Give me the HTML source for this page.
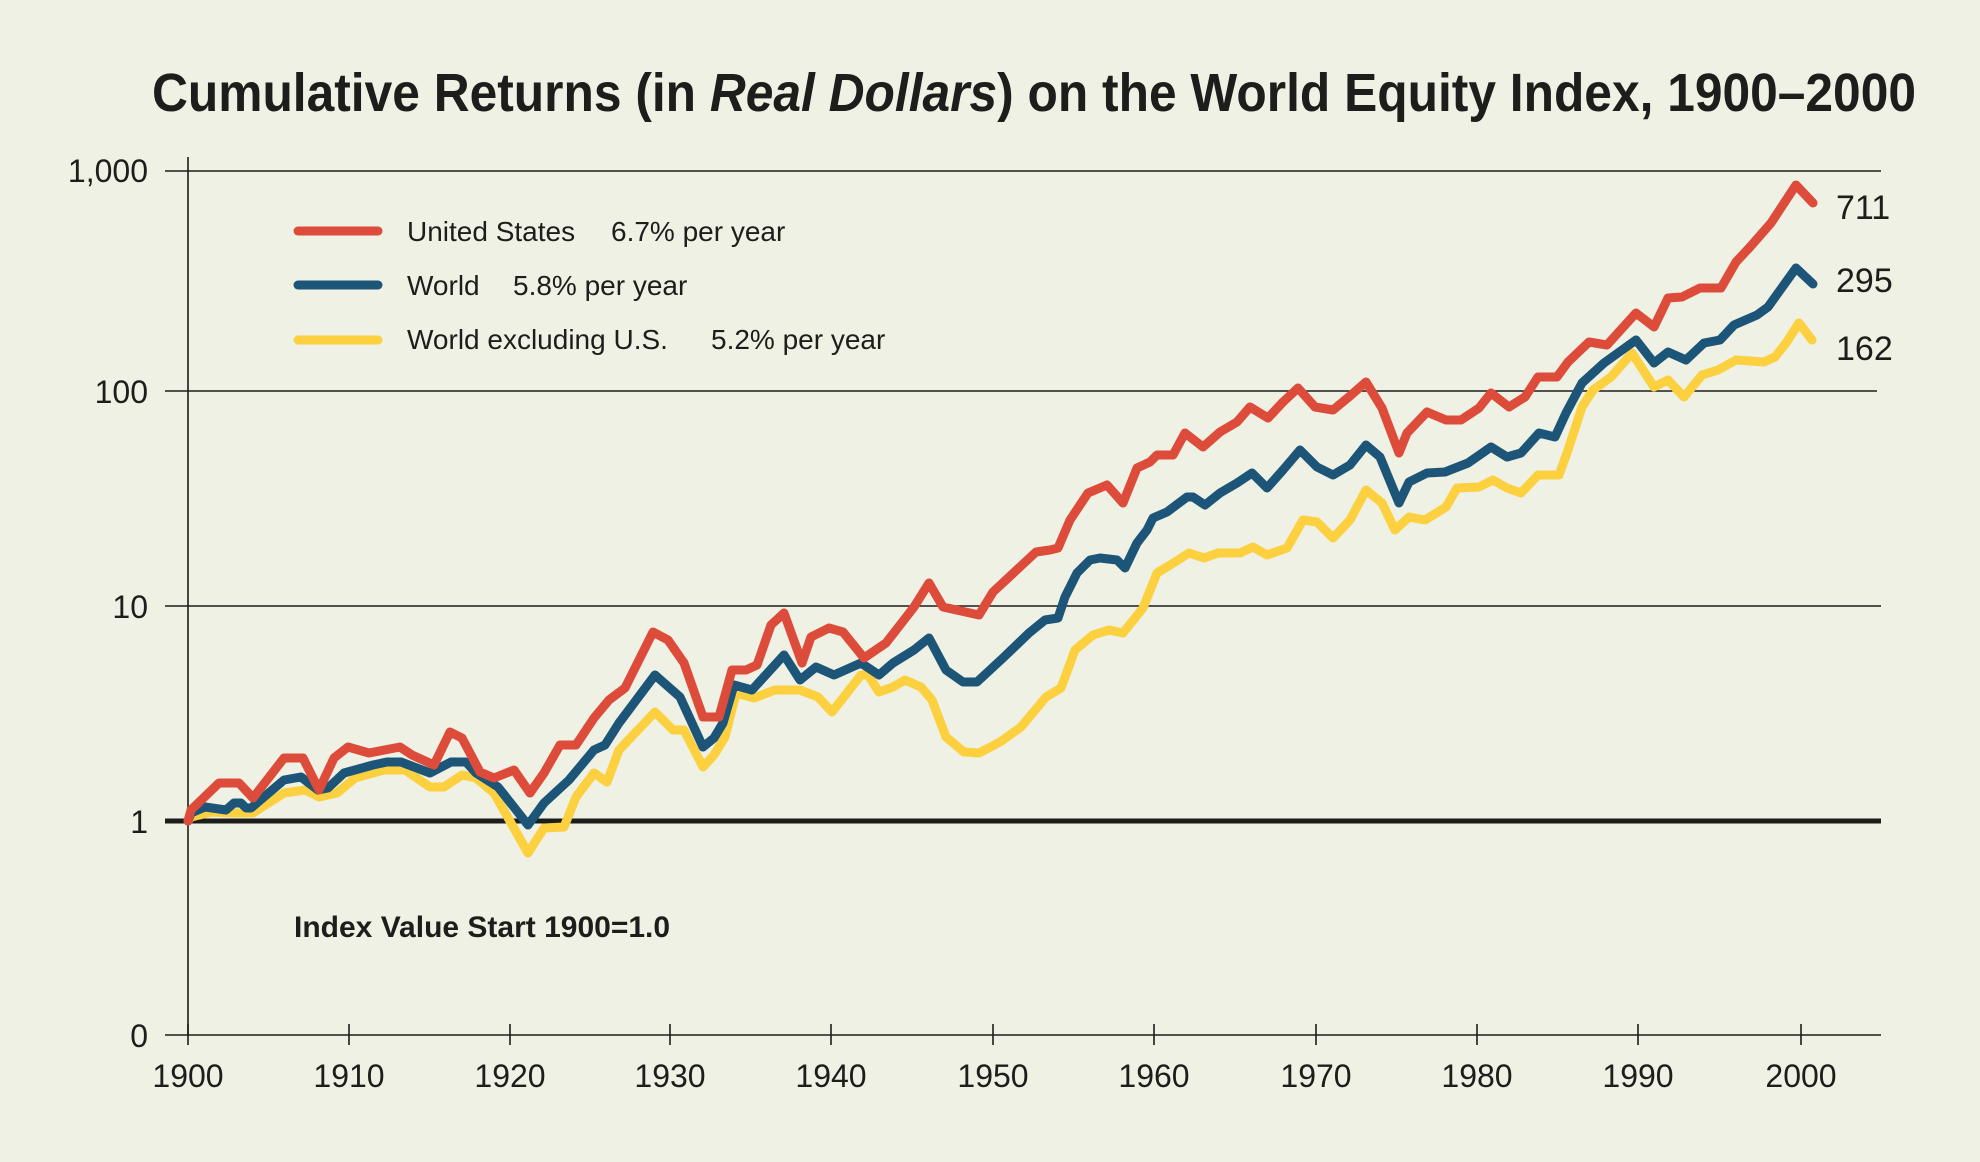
<!DOCTYPE html>
<html><head><meta charset="utf-8"><style>
html,body{margin:0;padding:0;background:#eef1e3;}
svg{display:block;font-family:"Liberation Sans",sans-serif;}
</style></head><body>
<svg width="1980" height="1162" viewBox="0 0 1980 1162" xmlns="http://www.w3.org/2000/svg">
<rect width="1980" height="1162" fill="#eef1e3"/>
<text x="152" y="111" font-size="54" font-weight="bold" fill="#1d1d1b" textLength="1764" lengthAdjust="spacingAndGlyphs">Cumulative Returns (in <tspan font-style="italic">Real Dollars</tspan>) on the World Equity Index, 1900–2000</text>
<g stroke="#1d1d1b" stroke-width="1.6">
<line x1="165" y1="171" x2="1881" y2="171"/>
<line x1="165" y1="391" x2="1877" y2="391"/>
<line x1="165" y1="606" x2="1881" y2="606"/>
<line x1="188" y1="157" x2="188" y2="1036"/>
<line x1="165" y1="1035" x2="1881" y2="1035"/>
<line x1="349" y1="1024" x2="349" y2="1045"/><line x1="510" y1="1024" x2="510" y2="1045"/>
<line x1="670" y1="1024" x2="670" y2="1045"/><line x1="831" y1="1024" x2="831" y2="1045"/>
<line x1="993" y1="1024" x2="993" y2="1045"/><line x1="1154" y1="1024" x2="1154" y2="1045"/>
<line x1="1316" y1="1024" x2="1316" y2="1045"/><line x1="1477" y1="1024" x2="1477" y2="1045"/>
<line x1="1638" y1="1024" x2="1638" y2="1045"/><line x1="1801" y1="1024" x2="1801" y2="1045"/>
<line x1="188" y1="1024" x2="188" y2="1045"/>
</g>
<line x1="165" y1="821" x2="1881" y2="821" stroke="#1d1d1b" stroke-width="5"/>
<g font-size="32" fill="#1d1d1b" text-anchor="end">
<text x="148" y="182">1,000</text><text x="148" y="403">100</text><text x="148" y="618">10</text><text x="148" y="833">1</text><text x="148" y="1047">0</text>
</g>
<g font-size="32" fill="#1d1d1b" text-anchor="middle">
<text x="188" y="1087">1900</text><text x="349" y="1087">1910</text><text x="510" y="1087">1920</text><text x="670" y="1087">1930</text><text x="831" y="1087">1940</text><text x="993" y="1087">1950</text><text x="1154" y="1087">1960</text><text x="1316" y="1087">1970</text><text x="1477" y="1087">1980</text><text x="1638" y="1087">1990</text><text x="1801" y="1087">2000</text>
</g>
<g fill="none" stroke-width="9" stroke-linejoin="round" stroke-linecap="round">
<polyline stroke="#fdd03f" points="188,821 191,817 212,812 230,813 234,813 253,813 284,793 305,790 319,797 337,793 355,778 384,770 405,770 430,787 444,787 462,775 476,778 494,793 528,853 544,828 564,827 576,797 594,773 607,782 619,750 655,712 673,730 684,730 703,767 714,755 725,737 736,693 754,698 775,690 800,690 818,697 832,712 861,675 868,675 879,692 893,687 905,680 921,687 932,700 946,737 964,752 979,753 1000,742 1021,727 1046,697 1061,688 1075,650 1093,635 1109,630 1123,633 1143,608 1157,573 1175,562 1189,553 1204,558 1218,553 1240,553 1253,547 1267,555 1287,548 1303,520 1317,522 1333,538 1350,520 1366,490 1382,503 1395,530 1409,517 1425,520 1446,507 1457,488 1479,487 1493,480 1507,488 1521,493 1538,475 1559,475 1568,450 1582,407 1593,390 1611,377 1632,353 1654,387 1668,380 1684,397 1702,375 1718,370 1736,360 1764,362 1775,357 1786,343 1799,323 1812,340"/>
<polyline stroke="#1c5578" points="188,821 191,813 205,807 226,810 234,803 241,803 246,808 251,808 284,780 301,777 318,790 328,788 344,773 373,765 387,762 401,762 430,773 451,762 466,762 476,773 498,787 528,825 544,803 569,780 594,750 605,745 619,723 655,675 680,697 703,747 714,738 723,723 734,685 752,690 784,655 800,680 816,667 834,675 861,663 879,675 893,663 914,650 929,638 946,670 963,682 977,682 1004,657 1029,633 1045,620 1058,618 1065,597 1077,573 1090,560 1100,558 1117,560 1125,568 1137,543 1147,530 1153,518 1167,512 1187,497 1193,497 1205,505 1220,493 1237,483 1252,473 1267,488 1283,470 1300,450 1317,467 1333,475 1350,465 1366,445 1380,457 1399,503 1409,482 1427,473 1445,472 1468,463 1491,447 1507,457 1521,453 1539,433 1555,437 1566,413 1582,383 1604,363 1636,340 1654,363 1668,352 1686,360 1704,343 1720,340 1734,325 1757,315 1768,307 1796,268 1813,284"/>
<polyline stroke="#dd4b3a" points="188,821 191,810 219,783 239,783 253,798 284,758 303,758 319,790 334,758 348,747 369,753 400,747 412,755 434,765 450,732 462,738 480,772 494,778 514,770 530,793 544,773 560,745 576,745 594,718 609,700 625,688 653,632 668,640 684,663 703,717 719,717 732,670 746,670 757,665 771,625 784,613 802,663 811,637 829,628 843,632 864,658 886,643 914,607 929,583 943,607 979,615 993,592 1036,552 1050,550 1058,548 1070,520 1088,493 1107,485 1123,503 1137,468 1150,462 1157,455 1173,455 1185,433 1203,447 1220,432 1237,422 1250,407 1268,418 1283,402 1298,388 1315,407 1333,410 1350,396 1366,382 1382,408 1399,453 1407,433 1427,412 1446,420 1461,420 1479,408 1491,393 1509,407 1525,397 1538,377 1557,377 1568,362 1589,342 1607,345 1636,313 1654,327 1668,298 1682,297 1700,288 1721,288 1736,262 1750,247 1771,223 1796,185 1813,203"/>
<line x1="298" y1="231" x2="378" y2="231" stroke="#dd4b3a"/>
<line x1="298" y1="285" x2="378" y2="285" stroke="#1c5578"/>
<line x1="298" y1="340" x2="378" y2="340" stroke="#fdd03f"/>
</g>
<g font-size="28" fill="#1d1d1b">
<text x="407" y="241">United States</text><text x="611" y="241">6.7% per year</text>
<text x="407" y="295">World</text><text x="513" y="295">5.8% per year</text>
<text x="407" y="349">World excluding U.S.</text><text x="711" y="349">5.2% per year</text>
</g>
<g font-size="34" fill="#1d1d1b">
<text x="1836" y="219">711</text><text x="1836" y="292">295</text><text x="1836" y="360">162</text>
</g>
<text x="294" y="937" font-size="30" font-weight="bold" fill="#1d1d1b">Index Value Start 1900=1.0</text>
</svg>
</body></html>
